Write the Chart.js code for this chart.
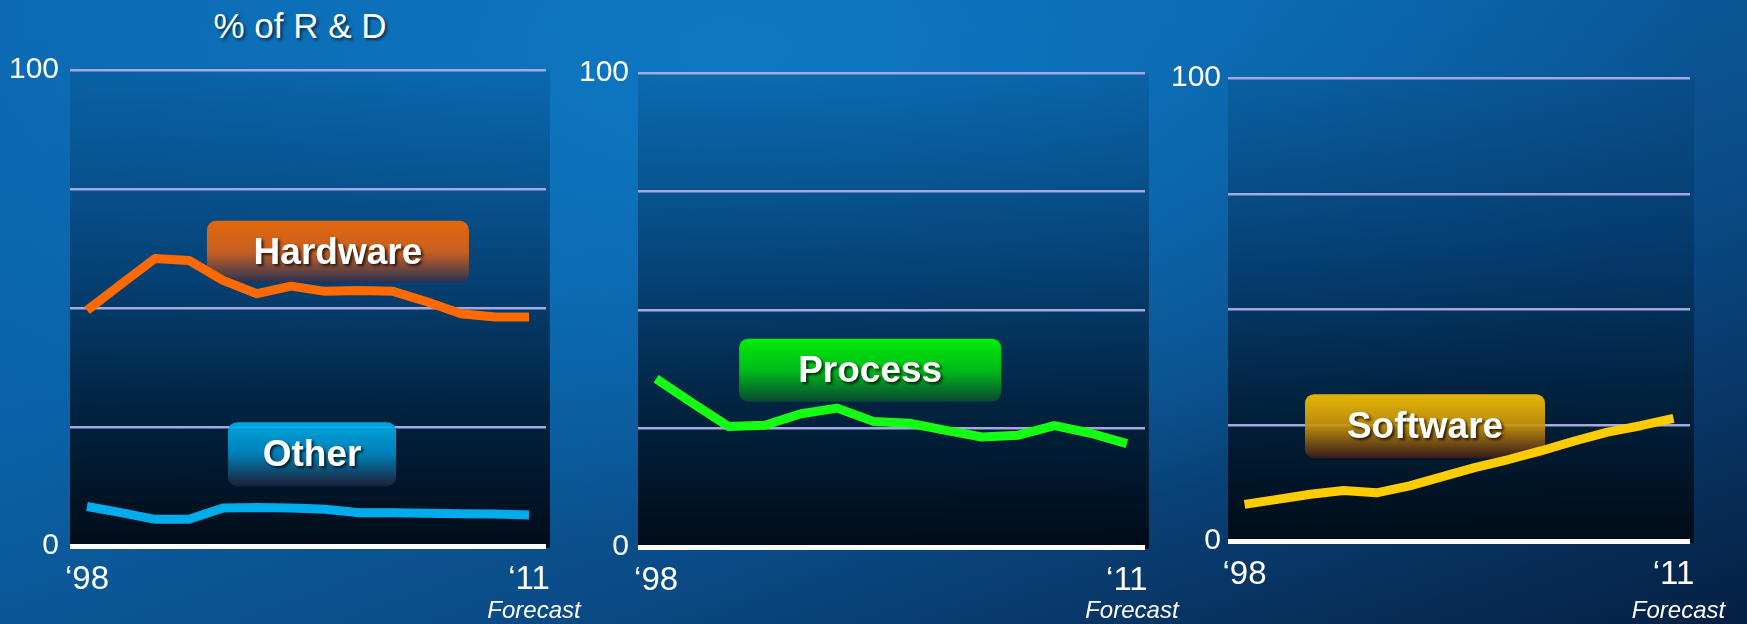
<!DOCTYPE html>
<html>
<head>
<meta charset="utf-8">
<script src="https://cdn.jsdelivr.net/npm/chart.js@4.4.0/dist/chart.umd.min.js"></script>
<style>
  html, body { margin: 0; padding: 0; }
  body {
    width: 1747px;
    height: 624px;
    overflow: hidden;
    position: relative;
    font-family: "Liberation Sans", Arial, sans-serif;
    background:
      radial-gradient(ellipse 55% 80% at 42% 8%, rgba(14, 122, 198, 0.9) 0%, rgba(14, 122, 198, 0) 100%),
      linear-gradient(160deg, #0a66ae 0%, #0a62a6 35%, #0a4b86 65%, #061f42 100%);
  }
  #title {
    position: absolute;
    left: 200px;
    top: 6px;
    width: 200px;
    text-align: center;
    color: #fff;
    font-size: 35px;
    white-space: nowrap;
    text-shadow: 2px 2px 3px rgba(0, 0, 0, 0.6);
  }
  canvas { position: absolute; top: 0; }
</style>
</head>
<body>
<div id="title">% of R &amp; D</div>
<canvas id="panel-1" width="600" height="624" style="left:0px"></canvas>
<canvas id="panel-2" width="620" height="624" style="left:568px"></canvas>
<canvas id="panel-3" width="589" height="624" style="left:1158px"></canvas>

<script>
// Data (% of R & D), 1998 - 2011 (2011 is a forecast)
const years = ["1998", "1999", "2000", "2001", "2002", "2003", "2004",
               "2005", "2006", "2007", "2008", "2009", "2010", "2011"];
const hardware = [49.5, 55.0, 60.4, 60.0, 55.8, 53.0, 54.6, 53.5, 53.7, 53.5, 51.3, 48.8, 48.1, 48.1];
const other = [8.3, 7.0, 5.6, 5.6, 8.0, 8.1, 8.0, 7.7, 7.0, 7.0, 6.9, 6.8, 6.7, 6.5];
const processShare = [35.5, 30.4, 25.4, 25.7, 28.1, 29.3, 26.5, 26.1, 24.6, 23.2, 23.6, 25.6, 24.0, 21.8];
const software = [7.9, 9.0, 10.1, 10.9, 10.4, 11.9, 13.9, 15.9, 17.6, 19.5, 21.6, 23.5, 24.9, 26.5];
const yTicks = [0, 100];
const forecastText = "Forecast";

// Colors
const colors = {
  hardware: "#ff6a00",
  other: "#00acec",
  process: "#14ff14",
  software: "#ffcc00",
  grid: "#a3a8e2",
  zero: "#ffffff",
};

// Panel layout + label boxes (box position in data units: category index, value)
const panels = [
  {
    id: "panel-1",
    top: 70, right: 54, xHeight: 78, yPad: 11,
    series: [
      { label: "Hardware", data: hardware, color: colors.hardware },
      { label: "Other", data: other, color: colors.other },
    ],
    tags: [
      { text: "Hardware", x: 7.38, y: 61.8, w: 262, h: 62,
        stops: ["#f76a00", "#d8621a", "#2a2f52"] },
      { text: "Other", x: 6.62, y: 19.3, w: 168, h: 64,
        stops: ["#00b0ec", "#0088c0", "#1e2038"] },
    ],
  },
  {
    id: "panel-2",
    top: 73, right: 43, xHeight: 77, yPad: 9,
    series: [
      { label: "Process", data: processShare, color: colors.process },
    ],
    tags: [
      { text: "Process", x: 5.91, y: 37.3, w: 262, h: 63,
        stops: ["#00ff00", "#00c814", "#0a4a30"] },
    ],
  },
  {
    id: "panel-3",
    top: 78, right: 57, xHeight: 83, yPad: 7,
    series: [
      { label: "Software", data: software, color: colors.software },
    ],
    tags: [
      { text: "Software", x: 5.47, y: 24.8, w: 240, h: 64,
        stops: ["#f8c400", "#c8920a", "#3a1a1a"] },
    ],
  },
];

// Draws plot background, label boxes and the "Forecast" note
function makeDecor(panel) {
  return {
    id: "decor",
    beforeDraw(chart) {
      const { ctx, chartArea } = chart;
      const g = ctx.createLinearGradient(0, chartArea.top, 0, chartArea.bottom);
      g.addColorStop(0, "rgba(4, 60, 110, 0.2)");
      g.addColorStop(0.35, "rgba(3, 50, 95, 0.6)");
      g.addColorStop(0.7, "rgba(1, 30, 55, 0.9)");
      g.addColorStop(1, "#000c18");
      ctx.save();
      ctx.fillStyle = g;
      ctx.fillRect(chartArea.left, chartArea.top, chartArea.right - chartArea.left + 4,
        chartArea.bottom - chartArea.top + 2);
      ctx.restore();
    },
    beforeDatasetsDraw(chart) {
      const { ctx } = chart;
      const xs = chart.scales.x;
      const ys = chart.scales.y;
      panel.tags.forEach((tag) => {
        const cx = xs.getPixelForValue(tag.x);
        const cy = ys.getPixelForValue(tag.y);
        const left = cx - tag.w / 2;
        const top = cy - tag.h / 2;
        const g = ctx.createLinearGradient(0, top, 0, top + tag.h);
        g.addColorStop(0, tag.stops[0]);
        g.addColorStop(0.5, tag.stops[1]);
        g.addColorStop(1, tag.stops[2]);
        ctx.save();
        ctx.globalAlpha = 0.92;
        ctx.fillStyle = g;
        ctx.beginPath();
        ctx.roundRect(left, top, tag.w, tag.h, 9);
        ctx.fill();
        ctx.globalAlpha = 1;
        ctx.font = "bold 37px 'Liberation Sans', Arial, sans-serif";
        ctx.fillStyle = "#ffffff";
        ctx.textAlign = "center";
        ctx.textBaseline = "middle";
        ctx.shadowColor = "rgba(0, 0, 0, 0.75)";
        ctx.shadowOffsetX = 2;
        ctx.shadowOffsetY = 2;
        ctx.shadowBlur = 3;
        ctx.fillText(tag.text, cx, cy + 2);
        ctx.restore();
      });
    },
    afterDraw(chart) {
      const { ctx } = chart;
      const xs = chart.scales.x;
      const lastX = xs.getPixelForTick(years.length - 1);
      ctx.save();
      ctx.font = "italic 24px 'Liberation Sans', Arial, sans-serif";
      ctx.fillStyle = "#ffffff";
      ctx.textAlign = "center";
      ctx.textBaseline = "middle";
      ctx.fillText(forecastText, lastX + 5, 611);
      ctx.restore();
    },
  };
}

function shortYear(i) {
  return "\u2018" + years[i].slice(2);
}

// Build one chart per panel
function createPanel(panel) {
  const ctx = document.getElementById(panel.id).getContext("2d");

  const data = {
    labels: years,
    datasets: panel.series.map((s) => ({
      label: s.label,
      data: s.data,
      borderColor: s.color,
      backgroundColor: s.color,
      borderWidth: 9,
      borderCapStyle: "butt",
      borderJoinStyle: "round",
      tension: 0,
      pointRadius: 0,
      fill: false,
    })),
  };

  const options = {
    responsive: false,
    animation: false,
    devicePixelRatio: 1,
    layout: {
      padding: { top: panel.top, right: panel.right, left: 0, bottom: 0 },
    },
    scales: {
      x: {
        offset: true,
        grid: { display: false },
        border: { display: false },
        ticks: {
          autoSkip: false,
          maxRotation: 0,
          padding: 6,
          color: "#ffffff",
          font: { size: 33 },
          callback: function (value, index) {
            if (index === 0 || index === years.length - 1) {
              return shortYear(index);
            }
            return "";
          },
        },
        afterFit: function (scale) {
          scale.height = panel.xHeight;
        },
      },
      y: {
        min: 0,
        max: 100,
        border: { display: false },
        grid: {
          drawTicks: false,
          color: (c) => (c.tick.value === 0 ? colors.zero : colors.grid),
          lineWidth: (c) => (c.tick.value === 0 ? 5 : 2.5),
        },
        ticks: {
          stepSize: 25,
          padding: panel.yPad,
          color: "#ffffff",
          font: { size: 30 },
          callback: function (value) {
            return yTicks.includes(value) ? String(value) : "";
          },
        },
        afterFit: function (scale) {
          scale.width = 70;
        },
      },
    },
    plugins: {
      legend: { display: false },
      tooltip: { enabled: false },
    },
  };

  return new Chart(ctx, {
    type: "line",
    data: data,
    options: options,
    plugins: [makeDecor(panel)],
  });
}

Chart.defaults.font.family = "'Liberation Sans', Arial, sans-serif";
panels.forEach(createPanel);
</script>
</body>
</html>
